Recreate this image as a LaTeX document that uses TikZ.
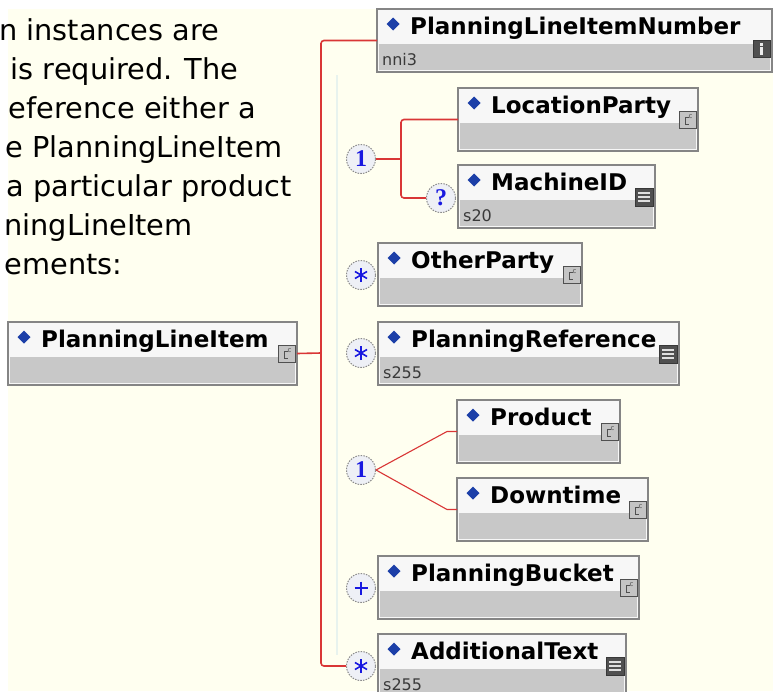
\documentclass[tikz,border=0pt]{standalone}
\usepackage{fontspec}
\setmainfont{DejaVu Sans}
\newfontfamily\serifb{Liberation Serif}
\usetikzlibrary{calc}
\definecolor{bgyel}{HTML}{FFFFF0}
\definecolor{redl}{HTML}{D93636}
\definecolor{boxbd}{HTML}{858585}
\definecolor{boxwh}{HTML}{F7F7F7}
\definecolor{boxgr}{HTML}{C8C8C8}
\definecolor{dblue}{HTML}{1C3FA8}
\definecolor{symblue}{HTML}{1818E0}
\definecolor{circfill}{HTML}{EEF0F6}
\definecolor{circbd}{HTML}{8C8C8C}
\definecolor{icodark}{HTML}{505050}
\definecolor{icolight}{HTML}{C4C4C4}
\definecolor{subtxt}{HTML}{3A3A3A}
\definecolor{paleline}{HTML}{E8F3EE}
\tikzset{
  elnode/.style={rectangle, draw=boxbd, fill=boxwh, line width=1.5pt, minimum height=63pt, inner sep=0pt, outer sep=0pt},
  lbl/.style={anchor=base west, inner sep=0pt, font=\fontsize{23}{23}\selectfont\bfseries, text=black},
  sublbl/.style={anchor=base west, inner sep=0pt, font=\fontsize{16}{16}\selectfont, text=subtxt},
  para/.style={anchor=base west, inner sep=0pt, font=\fontsize{28.8}{28.8}\selectfont, text=black},
  card/.style={circle, draw=circbd, fill=circfill, line width=1pt, dash pattern=on 1.5pt off 1.2pt, minimum size=29pt, inner sep=0pt},
  symtxt/.style={font=\serifb\bfseries\fontsize{24}{24}\selectfont, text=symblue},
  redmain/.style={draw=redl, line width=1.6pt},
  redthin/.style={draw=redl, line width=1.1pt},
}
\newcommand\iconc[1]{%
  \coordinate (ic) at ($(#1.north east)+(-19,23)$);
  \filldraw[fill=icolight, draw=icodark, line width=1pt] (ic) rectangle ++(17,17);
  \draw[icodark, line width=1pt] ($(ic)+(10,6)$) -- ++(-4,0) -- ++(0,7) -- ++(4,0);
  \node[inner sep=0pt, font=\fontsize{7}{7}\selectfont, text=icodark] (icx) at ($(ic)+(11.5,6)$) {c};
}
\newcommand\iconl[1]{%
  \coordinate (ic) at ($(#1.north east)+(-20,23)$);
  \filldraw[fill=icodark, draw=icodark!70!black, line width=0.8pt] (ic) rectangle ++(18,18);
  \draw[white!75!gray, line width=1.3pt] ($(ic)+(3,5)$) -- ++(12,0) ($(ic)+(3,9)$) -- ++(12,0) ($(ic)+(3,13)$) -- ++(12,0);
}
\newcommand\iconi[1]{%
  \coordinate (ic) at ($(#1.north east)+(-19,31)$);
  \filldraw[fill=icodark, draw=icodark!70!black, line width=0.8pt] (ic) rectangle ++(17,17);
  \fill[white!85!gray] ($(ic)+(7,7)$) rectangle ++(3,8);
  \fill[white!85!gray] ($(ic)+(7,3)$) rectangle ++(3,2.5);
}
% #1 name, #2 x, #3 y, #4 width, #5 label, #6 sublabel, #7 icon type (c,l,i)
\newcommand\elbox[7]{%
  \node[elnode, minimum width=#4pt, anchor=north west] (#1) at (#2,#3) {};
  \fill[boxgr] ($(#1.north west)+(2,35)$) rectangle ($(#1.south east)+(-2,-2)$);
  \fill[dblue] ($(#1.north west)+(16,8.5)$) -- ++(6.5,6.5) -- ++(-6.5,6.5) -- ++(-6.5,-6.5) -- cycle;
  \node[lbl] (#1-l) at ($(#1.north west)+(33,25)$) {#5};
  \node[sublbl] (#1-s) at ($(#1.north west)+(5,56.5)$) {#6};
  \csname icon#7\endcsname{#1}%
}
\newcommand\starsym[1]{%
  \foreach \a in {90,30,150} \draw[symblue, line width=1.6pt] ($(#1.center)+(\a:7)$) -- ($(#1.center)+(\a+180:7)$);
}
\newcommand\plussym[1]{%
  \draw[symblue, line width=1.5pt] ($(#1.center)+(-6.5,0)$) -- ($(#1.center)+(6.5,0)$) ($(#1.center)+(0,-6.5)$) -- ($(#1.center)+(0,6.5)$);
}
\begin{document}
\begin{tikzpicture}[x=1pt,y=-1pt]
\useasboundingbox (0,0) rectangle (773,691);
\fill[white] (0,0) rectangle (773,691);
\fill[bgyel] (8,9) rectangle (773,691);
\draw[paleline, line width=2pt] (337,75) -- (337,655);

% paragraph text (cropped)
\node[para] (t1) at (-1,40) {n instances are};
\node[para] (t2) at (10.5,79) {is required. The};
\node[para] (t3) at (8.5,118) {eference either a};
\node[para] (t4) at (5.5,157) {e PlanningLineItem};
\node[para] (t5) at (6.3,196) {a particular product};
\node[para] (t6) at (4,235) {ningLineItem};
\node[para] (t7) at (4.5,274) {ements:};

% element boxes
\elbox{pli}{8}{322}{289}{PlanningLineItem}{}{c}
\elbox{plin}{377}{9}{395}{PlanningLineItemNumber}{nni3}{i}
\elbox{locp}{458}{88}{240}{LocationParty}{}{c}
\elbox{mach}{458}{165}{197}{MachineID}{s20}{l}
\elbox{othp}{378}{243}{204}{OtherParty}{}{c}
\elbox{pref}{378}{322}{301}{PlanningReference}{s255}{l}
\elbox{prod}{457}{400}{163}{Product}{}{c}
\elbox{down}{457}{478}{191}{Downtime}{}{c}
\elbox{pbuck}{378}{556}{261}{PlanningBucket}{}{c}
\elbox{addt}{378}{634}{248}{AdditionalText}{s255}{l}

% cardinality circles
\node[card] (c1) at (361,159) {};
\node[symtxt] (c1t) at (c1.center) {1};
\node[card] (qc) at (441,198) {};
\node[symtxt] (qct) at (qc.center) {?};
\node[card] (s1) at (361,275) {};
\starsym{s1}
\node[card] (s2) at (361,353) {};
\starsym{s2}
\node[card] (c2) at (361,470) {};
\node[symtxt] (c2t) at (c2.center) {1};
\node[card] (pc) at (361,588) {};
\plussym{pc}
\node[card] (s3) at (361,666) {};
\starsym{s3}

% connectors
\coordinate (v) at (321,353);
\coordinate (j1) at (401,159);
\draw[redmain, rounded corners=3pt] (plin.west) -| (v) |- (s3.west);
\draw[redmain] (pli.east) -- (v);
\draw[redmain] (c1.east) -- (j1);
\draw[redmain, rounded corners=3pt] (locp.west) -| (j1) |- (qc.west);
\draw[redthin] (c2.east) -- ($(prod.west)+(-10,0)$) -- (prod.west);
\draw[redthin] (c2.east) -- ($(down.west)+(-10,0)$) -- (down.west);
\end{tikzpicture}
\end{document}
